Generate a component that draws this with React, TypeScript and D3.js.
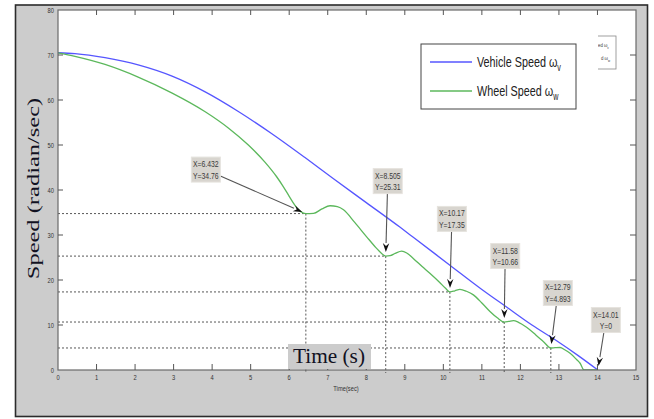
import React from "react";
import * as d3 from "d3";

// ---- data ----
const xTicks = d3.range(0, 16);
const yTicks = d3.range(0, 90, 10);

const vehicleT = [0, 0.44, 1.22, 2.08, 2.96, 3.82, 4.67, 5.55, 6.41, 7.15, 8.0, 8.88, 9.22, 10.17, 11.0, 11.64, 12.3, 12.94, 13.5, 14.01];
const vehicleSpeed = [70.5, 70.3, 69.4, 67.8, 65.3, 61.8, 57.5, 52.5, 47.2, 42.5, 37.2, 31.7, 29.5, 23.3, 17.9, 14.0, 10.0, 6.5, 3.2, 0];

const wheelT = [0, 0.44, 1.22, 2.08, 2.95, 3.82, 4.42, 4.94, 5.37, 5.67, 5.85, 6.0, 6.15, 6.3, 6.432, 6.63, 6.85, 7.06, 7.25, 7.41, 7.7, 8.01, 8.25, 8.44, 8.505, 8.62, 8.75, 8.92, 9.05, 9.22, 9.45, 9.65, 9.9, 10.05, 10.17, 10.3, 10.43, 10.6, 10.78, 11.0, 11.21, 11.4, 11.58, 11.7, 11.82, 11.95, 12.16, 12.4, 12.6, 12.79, 12.9, 13.03, 13.15, 13.29, 13.45, 13.55, 13.65, 14.01];
const wheelSpeed = [70.5, 69.7, 67.9, 65.1, 61.6, 57.4, 53.8, 50.0, 46.2, 43.0, 40.7, 38.6, 36.6, 35.2, 34.76, 34.8, 35.8, 36.5, 36.3, 35.6, 32.8, 29.6, 27.2, 25.6, 25.31, 25.4, 25.9, 26.4, 26.0, 24.8, 23.0, 21.5, 19.5, 18.2, 17.35, 17.6, 17.9, 17.5, 16.7, 14.9, 13.0, 11.6, 10.66, 10.8, 10.96, 10.6, 9.5, 7.8, 6.3, 4.893, 4.95, 5.0, 4.5, 3.7, 2.4, 1.5, 0, 0];

const tipX = [6.432, 8.505, 10.17, 11.58, 12.79, 14.01];
const tipY = [34.76, 25.31, 17.35, 10.66, 4.893, 0];

// callout box offsets (pixels, relative to the data point)
const calloutDx = [-100, 2, 2, 1, 7, 8];
const calloutDy = [-44, -75, -73, -66, -55, -50];

const seriesNames = ["Vehicle Speed ω", "Wheel Speed ω"];
const seriesSubs = ["v", "w"];
const seriesColors = ["#5656ff", "#5cb85c"];

export default function App() {
  const W = 654, H = 419;
  const x = d3.scaleLinear().domain([0, 15]).range([58, 636]);
  const y = d3.scaleLinear().domain([0, 80]).range([370, 10]);
  const line = d3
    .line<[number, number]>()
    .x((d) => x(d[0]))
    .y((d) => y(d[1]))
    .curve(d3.curveMonotoneX);

  const vehPts: [number, number][] = vehicleT.map((t, i) => [t, vehicleSpeed[i]]);
  const whlPts: [number, number][] = wheelT.map((t, i) => [t, wheelSpeed[i]]);

  const sq = 0.72; // horizontal squeeze of the original picture
  const bw = 29, bh = 25;

  return (
    <svg width={W} height={H} style={{ position: "absolute", left: 0, top: 0 }} fontFamily="'Liberation Sans', Arial, sans-serif">
      <defs>
        <clipPath id="plotClip">
          <rect x={58} y={10} width={578} height={360} />
        </clipPath>
        <clipPath id="miniClip">
          <rect x={598} y={30} width={30} height={45} />
        </clipPath>
      </defs>
      <rect x={0} y={0} width={W} height={H} fill="#ffffff" />
      <rect x={15.5} y={5} width={632} height={411.5} fill="#cccccc" stroke="#2b2b2b" strokeWidth={1.6} />
      {/* plot area */}
      <rect x={58} y={10} width={578} height={360} fill="#ffffff" />

      {/* guide dotted lines */}
      {tipX.map((tx, i) =>
        tipY[i] > 0 ? (
          <g key={"g" + i} stroke="#444" strokeWidth={0.9} strokeDasharray="2,2" fill="none">
            <line x1={x(0)} x2={x(tx)} y1={y(tipY[i])} y2={y(tipY[i])} />
            <line x1={x(tx)} x2={x(tx)} y1={y(tipY[i])} y2={y(0) + 3} />
          </g>
        ) : null
      )}

      {/* curves */}
      <g clipPath="url(#plotClip)">
        <path d={line(vehPts) || ""} fill="none" stroke={seriesColors[0]} strokeWidth={1.3} />
        <path d={line(whlPts) || ""} fill="none" stroke={seriesColors[1]} strokeWidth={1.3} />
      </g>

      {/* axes box */}
      <rect x={58} y={10} width={578} height={360} fill="none" stroke="#6a6a6a" strokeWidth={1.2} />
      {xTicks.map((t) => (
        <g key={"xt" + t} stroke="#555" strokeWidth={1}>
          {t > 0 && t < 15 ? (
            <>
              <line x1={x(t)} x2={x(t)} y1={y(0)} y2={y(0) - 6} />
              <line x1={x(t)} x2={x(t)} y1={y(80)} y2={y(80) + 5} />
            </>
          ) : null}
        </g>
      ))}
      {yTicks.map((v) => (
        <g key={"yt" + v} stroke="#555" strokeWidth={1}>
          {v > 0 && v < 80 ? (
            <>
              <line x1={x(0)} x2={x(0) + 5} y1={y(v)} y2={y(v)} />
              <line x1={x(15)} x2={x(15) - 6} y1={y(v)} y2={y(v)} />
            </>
          ) : null}
        </g>
      ))}
      {xTicks.map((t) => (
        <text key={"xl" + t} transform={`translate(${x(t)},${y(0) + 10}) scale(${sq},1)`} textAnchor="middle" fontSize={8} fill="#333">
          {t}
        </text>
      ))}
      {yTicks.map((v) => (
        <text key={"yl" + v} transform={`translate(${x(0) - 4},${y(v) + 2.5}) scale(${sq},1)`} textAnchor="end" fontSize={8} fill="#333">
          {v}
        </text>
      ))}
      <text transform={`translate(346,391) scale(${sq},1)`} textAnchor="middle" fontSize={8} fill="#333">
        Time(sec)
      </text>

      {/* callouts */}
      {tipX.map((tx, i) => {
        const px = x(tx), py = y(tipY[i]);
        const cx = px + calloutDx[i], cy = py + calloutDy[i];
        const dx = px - cx, dy = py - cy;
        const k = Math.min(Math.abs((bw / 2) / (dx || 1e-6)), Math.abs((bh / 2) / (dy || 1e-6)));
        const sx = cx + dx * k, sy = cy + dy * k;
        const len = Math.hypot(px - sx, py - sy);
        const ux = (px - sx) / len, uy = (py - sy) / len;
        const ex = px - ux * 4, ey = py - uy * 4;
        const bx = ex - ux * 9, by = ey - uy * 9;
        const nx = -uy * 3.2, ny = ux * 3.2;
        return (
          <g key={"c" + i}>
            <line x1={sx} y1={sy} x2={bx} y2={by} stroke="#555" strokeWidth={1.1} />
            <path d={`M${ex},${ey}L${bx + nx},${by + ny}L${ex - ux * 6},${ey - uy * 6}L${bx - nx},${by - ny}Z`} fill="#111" />
            <rect x={cx - bw / 2} y={cy - bh / 2} width={bw} height={bh} fill="#d8d5cf" stroke="#e6e3de" strokeWidth={1} />
            <text transform={`translate(${cx},${cy - bh / 2 + 10}) scale(${sq},1)`} textAnchor="middle" fontSize={9.5} fill="#3a3a3a">
              {`X=${tx}`}
            </text>
            <text transform={`translate(${cx},${cy - bh / 2 + 21.5}) scale(${sq},1)`} textAnchor="middle" fontSize={9.5} fill="#3a3a3a">
              {`Y=${tipY[i]}`}
            </text>
          </g>
        );
      })}

      {/* legend */}
      <rect x={421} y={44} width={155} height={65} fill="#ffffff" stroke="#444" strokeWidth={1} />
      {seriesNames.map((nm, i) => (
        <g key={"lg" + i}>
          <line x1={430} x2={472} y1={62 + i * 29} y2={62 + i * 29} stroke={seriesColors[i]} strokeWidth={1.4} />
          <text transform={`translate(477,${66.5 + i * 29}) scale(${sq},1)`} fontSize={15} fill="#222">
            {nm}
            <tspan fontSize={10} dy={4}>{seriesSubs[i]}</tspan>
          </text>
        </g>
      ))}

      {/* clipped second legend fragment */}
      <g clipPath="url(#miniClip)">
        <rect x={590} y={36} width={26} height={33} fill="#ffffff" stroke="#888" strokeWidth={0.8} />
        <text transform={`translate(598,47) scale(${sq},1)`} fontSize={6} fill="#333">
          ed ω<tspan fontSize={4} dy={1.5}>v</tspan>
        </text>
        <text transform={`translate(601,60) scale(${sq},1)`} fontSize={6} fill="#333">
          d ω<tspan fontSize={4} dy={1.5}>w</tspan>
        </text>
      </g>

      {/* overlay labels */}
      <rect x={288} y={344} width={83} height={25} fill="#cccccc" />
      <text x={293} y={362.5} fontFamily="'Liberation Serif', 'Times New Roman', serif" fontSize={22} textLength={72} lengthAdjust="spacingAndGlyphs" fill="#111122">
        Time (s)
      </text>
      <text
        transform={`translate(39,188.5) rotate(-90) scale(1,${sq})`}
        textAnchor="middle"
        fontFamily="'Liberation Serif', 'Times New Roman', serif"
        fontSize={24.5}
        fill="#111122"
      >
        Speed (radian/sec)
      </text>
    </svg>
  );
}
